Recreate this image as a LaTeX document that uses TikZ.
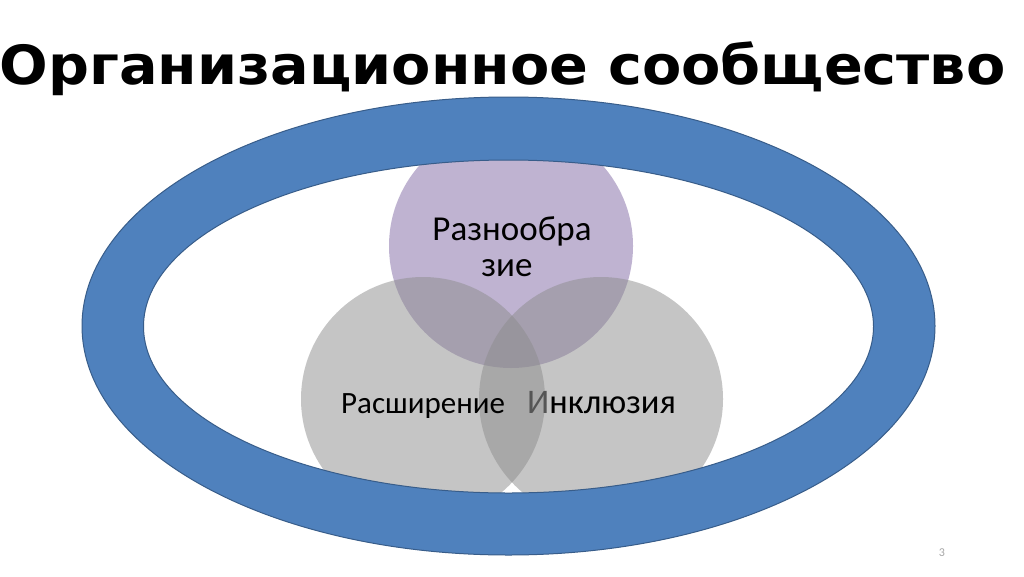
\documentclass[tikz,border=0pt]{standalone}
\usepackage{fontspec}
\setmainfont{Carlito}
\newfontfamily\titlefont{DejaVu Sans}
\definecolor{ringblue}{HTML}{4F81BD}
\definecolor{ringedge}{HTML}{385D8A}
\definecolor{purplebase}{RGB}{129,105,165}
\definecolor{graybase}{RGB}{141,141,141}
\definecolor{igray}{RGB}{85,85,85}
\tikzset{
  venn/.style={circle, minimum size=244pt, inner sep=0pt, fill opacity=0.5},
  label/.style={inner sep=0pt, font=\fontsize{31}{37}\selectfont, text=black},
  biglabel/.style={inner sep=0pt, font=\fontsize{35}{37}\selectfont, text=black},
}
\begin{document}
\begin{tikzpicture}[x=1pt,y=-1pt]
\useasboundingbox (0,0) rectangle (1024,576);
\fill[white] (0,0) rectangle (1024,576);
\node (title) at (502.5,84) [anchor=base, inner sep=0pt, font=\titlefont\bfseries\fontsize{54}{60}\selectfont] {\scalebox{1.06}[1]{Организационное сообщество}};
\node[venn, fill=purplebase] (top) at (511,246) {};
\node[venn, fill=graybase] (left) at (423,399) {};
\node[venn, fill=graybase] (right) at (601,399) {};
\fill[ringblue, even odd rule] (508.5,326) ellipse [x radius=426.5, y radius=229]
      (508.5,326.5) ellipse [x radius=365, y radius=166.5];
\draw[ringedge, line width=1pt] (508.5,326) ellipse [x radius=426.5, y radius=229];
\draw[ringedge, line width=1pt] (508.5,326.5) ellipse [x radius=365, y radius=166.5];
\node[biglabel, anchor=base] (t1) at (512,240) {Разнообра};
\node[biglabel, anchor=base] (t2) at (507,276) {зие};
\node[label, anchor=base west] (t3) at (341,413) {Расширение};
\node[biglabel, anchor=base west, font=\fontsize{34.5}{37}\selectfont] (t4) at (527,413) {{\color{igray}И}нклюзия};
\node[inner sep=0pt, anchor=base, font=\fontsize{12}{14}\selectfont, text=gray!70] (pg) at (942,556) {3};
\end{tikzpicture}
\end{document}
